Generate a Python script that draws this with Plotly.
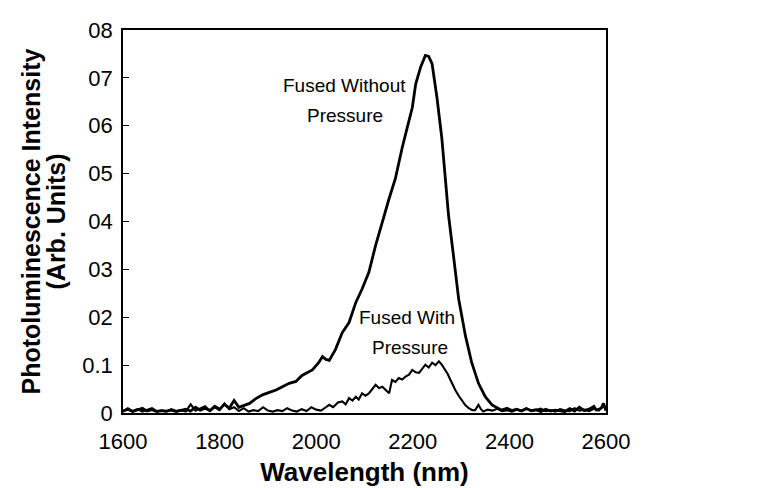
import plotly.graph_objects as go

# Fused without pressure
wl_without = [1600, 1610, 1620, 1630, 1640, 1650, 1660, 1670, 1680, 1690, 1700, 1710, 1720, 1730, 1740,
              1750, 1760, 1770, 1780, 1790, 1800, 1810, 1820, 1830, 1840, 1850, 1862, 1875, 1889, 1900,
              1917, 1930, 1944, 1958, 1970, 1979, 1992, 2005, 2013, 2020, 2027, 2040, 2054, 2068, 2082,
              2095, 2109, 2123, 2137, 2151, 2164, 2171, 2178, 2192, 2199, 2206, 2216, 2226, 2233, 2240,
              2250, 2260, 2267, 2274, 2285, 2295, 2309, 2322, 2336, 2350, 2364, 2374, 2384, 2395, 2405,
              2415, 2425, 2435, 2445, 2455, 2465, 2475, 2485, 2495, 2505, 2515, 2525, 2535, 2545, 2555,
              2565, 2575, 2580, 2590, 2595, 2600]
pl_without = [0.004, 0.008, 0.003, 0.006, 0.010, 0.004, 0.007, 0.003, 0.005, 0.004, 0.006, 0.003, 0.005, 0.008, 0.004,
              0.012, 0.006, 0.010, 0.005, 0.014, 0.008, 0.018, 0.010, 0.026, 0.012, 0.015, 0.020, 0.030, 0.038, 0.042,
              0.048, 0.055, 0.062, 0.066, 0.078, 0.083, 0.090, 0.105, 0.118, 0.112, 0.110, 0.133, 0.168, 0.189, 0.231,
              0.259, 0.294, 0.350, 0.400, 0.448, 0.490, 0.526, 0.554, 0.610, 0.638, 0.687, 0.722, 0.747, 0.745, 0.729,
              0.659, 0.575, 0.498, 0.413, 0.322, 0.238, 0.161, 0.105, 0.062, 0.034, 0.017, 0.012, 0.006, 0.010, 0.005,
              0.008, 0.004, 0.009, 0.005, 0.007, 0.003, 0.008, 0.004, 0.006, 0.005, 0.003, 0.009, 0.004, 0.012, 0.005,
              0.008, 0.014, 0.006, 0.010, 0.020, 0.005]

# Fused with pressure
wl_with = [1600, 1610, 1620, 1630, 1640, 1650, 1660, 1670, 1680, 1690, 1700, 1710, 1720, 1730, 1740,
           1750, 1760, 1770, 1780, 1790, 1800, 1810, 1820, 1830, 1840, 1850, 1860, 1870, 1880, 1890,
           1900, 1910, 1920, 1930, 1940, 1950, 1960, 1970, 1980, 1990, 2000, 2010, 2020, 2027, 2035,
           2045, 2054, 2061, 2068, 2075, 2082, 2088, 2095, 2102, 2109, 2116, 2123, 2130, 2137, 2144,
           2151, 2157, 2164, 2171, 2178, 2185, 2192, 2199, 2206, 2213, 2220, 2226, 2233, 2240, 2247,
           2254, 2260, 2267, 2272, 2278, 2283, 2288, 2295, 2302, 2309, 2316, 2323, 2329, 2336, 2341,
           2346, 2355, 2365, 2375, 2385, 2395, 2405, 2415, 2425, 2435, 2445, 2455, 2465, 2475, 2485,
           2495, 2505, 2515, 2525, 2535, 2545, 2555, 2565, 2575, 2585, 2595, 2600]
pl_with = [0.003, 0.010, 0.004, 0.008, 0.003, 0.006, 0.010, 0.004, 0.005, 0.003, 0.008, 0.004, 0.006, 0.003, 0.018,
           0.005, 0.009, 0.014, 0.004, 0.012, 0.006, 0.020, 0.008, 0.012, 0.004, 0.010, 0.003, 0.006, 0.004, 0.012,
           0.005, 0.003, 0.006, 0.004, 0.010, 0.005, 0.003, 0.008, 0.004, 0.012, 0.007, 0.005, 0.012, 0.017, 0.012,
           0.022, 0.024, 0.018, 0.031, 0.026, 0.034, 0.028, 0.041, 0.036, 0.041, 0.050, 0.059, 0.052, 0.055, 0.048,
           0.041, 0.069, 0.065, 0.073, 0.070, 0.076, 0.080, 0.090, 0.085, 0.084, 0.092, 0.101, 0.095, 0.105, 0.100,
           0.108, 0.101, 0.090, 0.082, 0.069, 0.058, 0.048, 0.036, 0.027, 0.016, 0.010, 0.006, 0.006, 0.017, 0.008,
           0.003, 0.007, 0.005, 0.009, 0.004, 0.006, 0.003, 0.007, 0.005, 0.010, 0.004, 0.006, 0.009, 0.004, 0.006,
           0.003, 0.008, 0.005, 0.004, 0.010, 0.005, 0.007, 0.004, 0.009, 0.005, 0.015, 0.006]

x_ticks = [1600, 1800, 2000, 2200, 2400, 2600]
y_tick_vals = [0, 0.1, 0.2, 0.3, 0.4, 0.5, 0.6, 0.7, 0.8]
y_tick_text = ["0", "0.1", "02", "03", "04", "05", "06", "07", "08"]

x_title = "Wavelength (nm)"
y_title_lines = ["Photoluminescence Intensity", "(Arb. Units)"]
label_without = ["Fused Without", "Pressure"]
label_with = ["Fused With", "Pressure"]

FONT = "Liberation Sans, Arial, sans-serif"
ML, MR, MT, MB = 115, 162, 22, 83
W, H = 760, 488
PW = W - ML - MR

fig = go.Figure()
fig.add_trace(go.Scatter(x=wl_without, y=pl_without, mode="lines",
                         line=dict(color="black", width=2.8), showlegend=False))
fig.add_trace(go.Scatter(x=wl_with, y=pl_with, mode="lines",
                         line=dict(color="black", width=2.1), showlegend=False))

# curve labels (one annotation per line, to keep the tall line spacing)
for (xx, yy), txt in zip([(2058, 0.684), (2060, 0.621)], label_without):
    fig.add_annotation(x=xx, y=yy, text=txt, showarrow=False,
                       font=dict(family=FONT, size=19, color="black"))
for (xx, yy), txt in zip([(2188, 0.200), (2194, 0.137)], label_with):
    fig.add_annotation(x=xx, y=yy, text=txt, showarrow=False,
                       font=dict(family=FONT, size=19, color="black"))

# y-axis title (two tightly spaced lines)
for px, txt in zip([22, 47], y_title_lines):
    fig.add_annotation(xref="paper", yref="paper", x=(px - ML) / PW, y=0.5,
                       text=txt, textangle=-90, showarrow=False,
                       xanchor="center", yanchor="middle",
                       font=dict(family=FONT, size=25, weight="bold", color="black"))

fig.update_layout(
    width=W, height=H,
    margin=dict(l=ML, r=MR, t=MT, b=MB),
    paper_bgcolor="white", plot_bgcolor="white",
    font=dict(family=FONT, color="black"),
    xaxis=dict(range=[1600, 2600], tickvals=x_ticks, ticks="", showgrid=False, zeroline=False,
               showline=True, linecolor="black", linewidth=1.6, mirror=True, automargin=False,
               tickfont=dict(size=22, color="black"), ticklabelstandoff=8,
               title=dict(text=x_title, font=dict(size=26, weight="bold", color="black"),
                          standoff=10)),
    yaxis=dict(range=[0, 0.8], tickvals=y_tick_vals, ticktext=y_tick_text, ticks="inside",
               ticklen=6, tickwidth=1.3, tickcolor="black", automargin=False,
               showgrid=False, zeroline=False, ticklabelstandoff=4,
               showline=True, linecolor="black", linewidth=1.6, mirror=True,
               tickfont=dict(size=22, color="black")),
)

fig.write_html("out.html")
